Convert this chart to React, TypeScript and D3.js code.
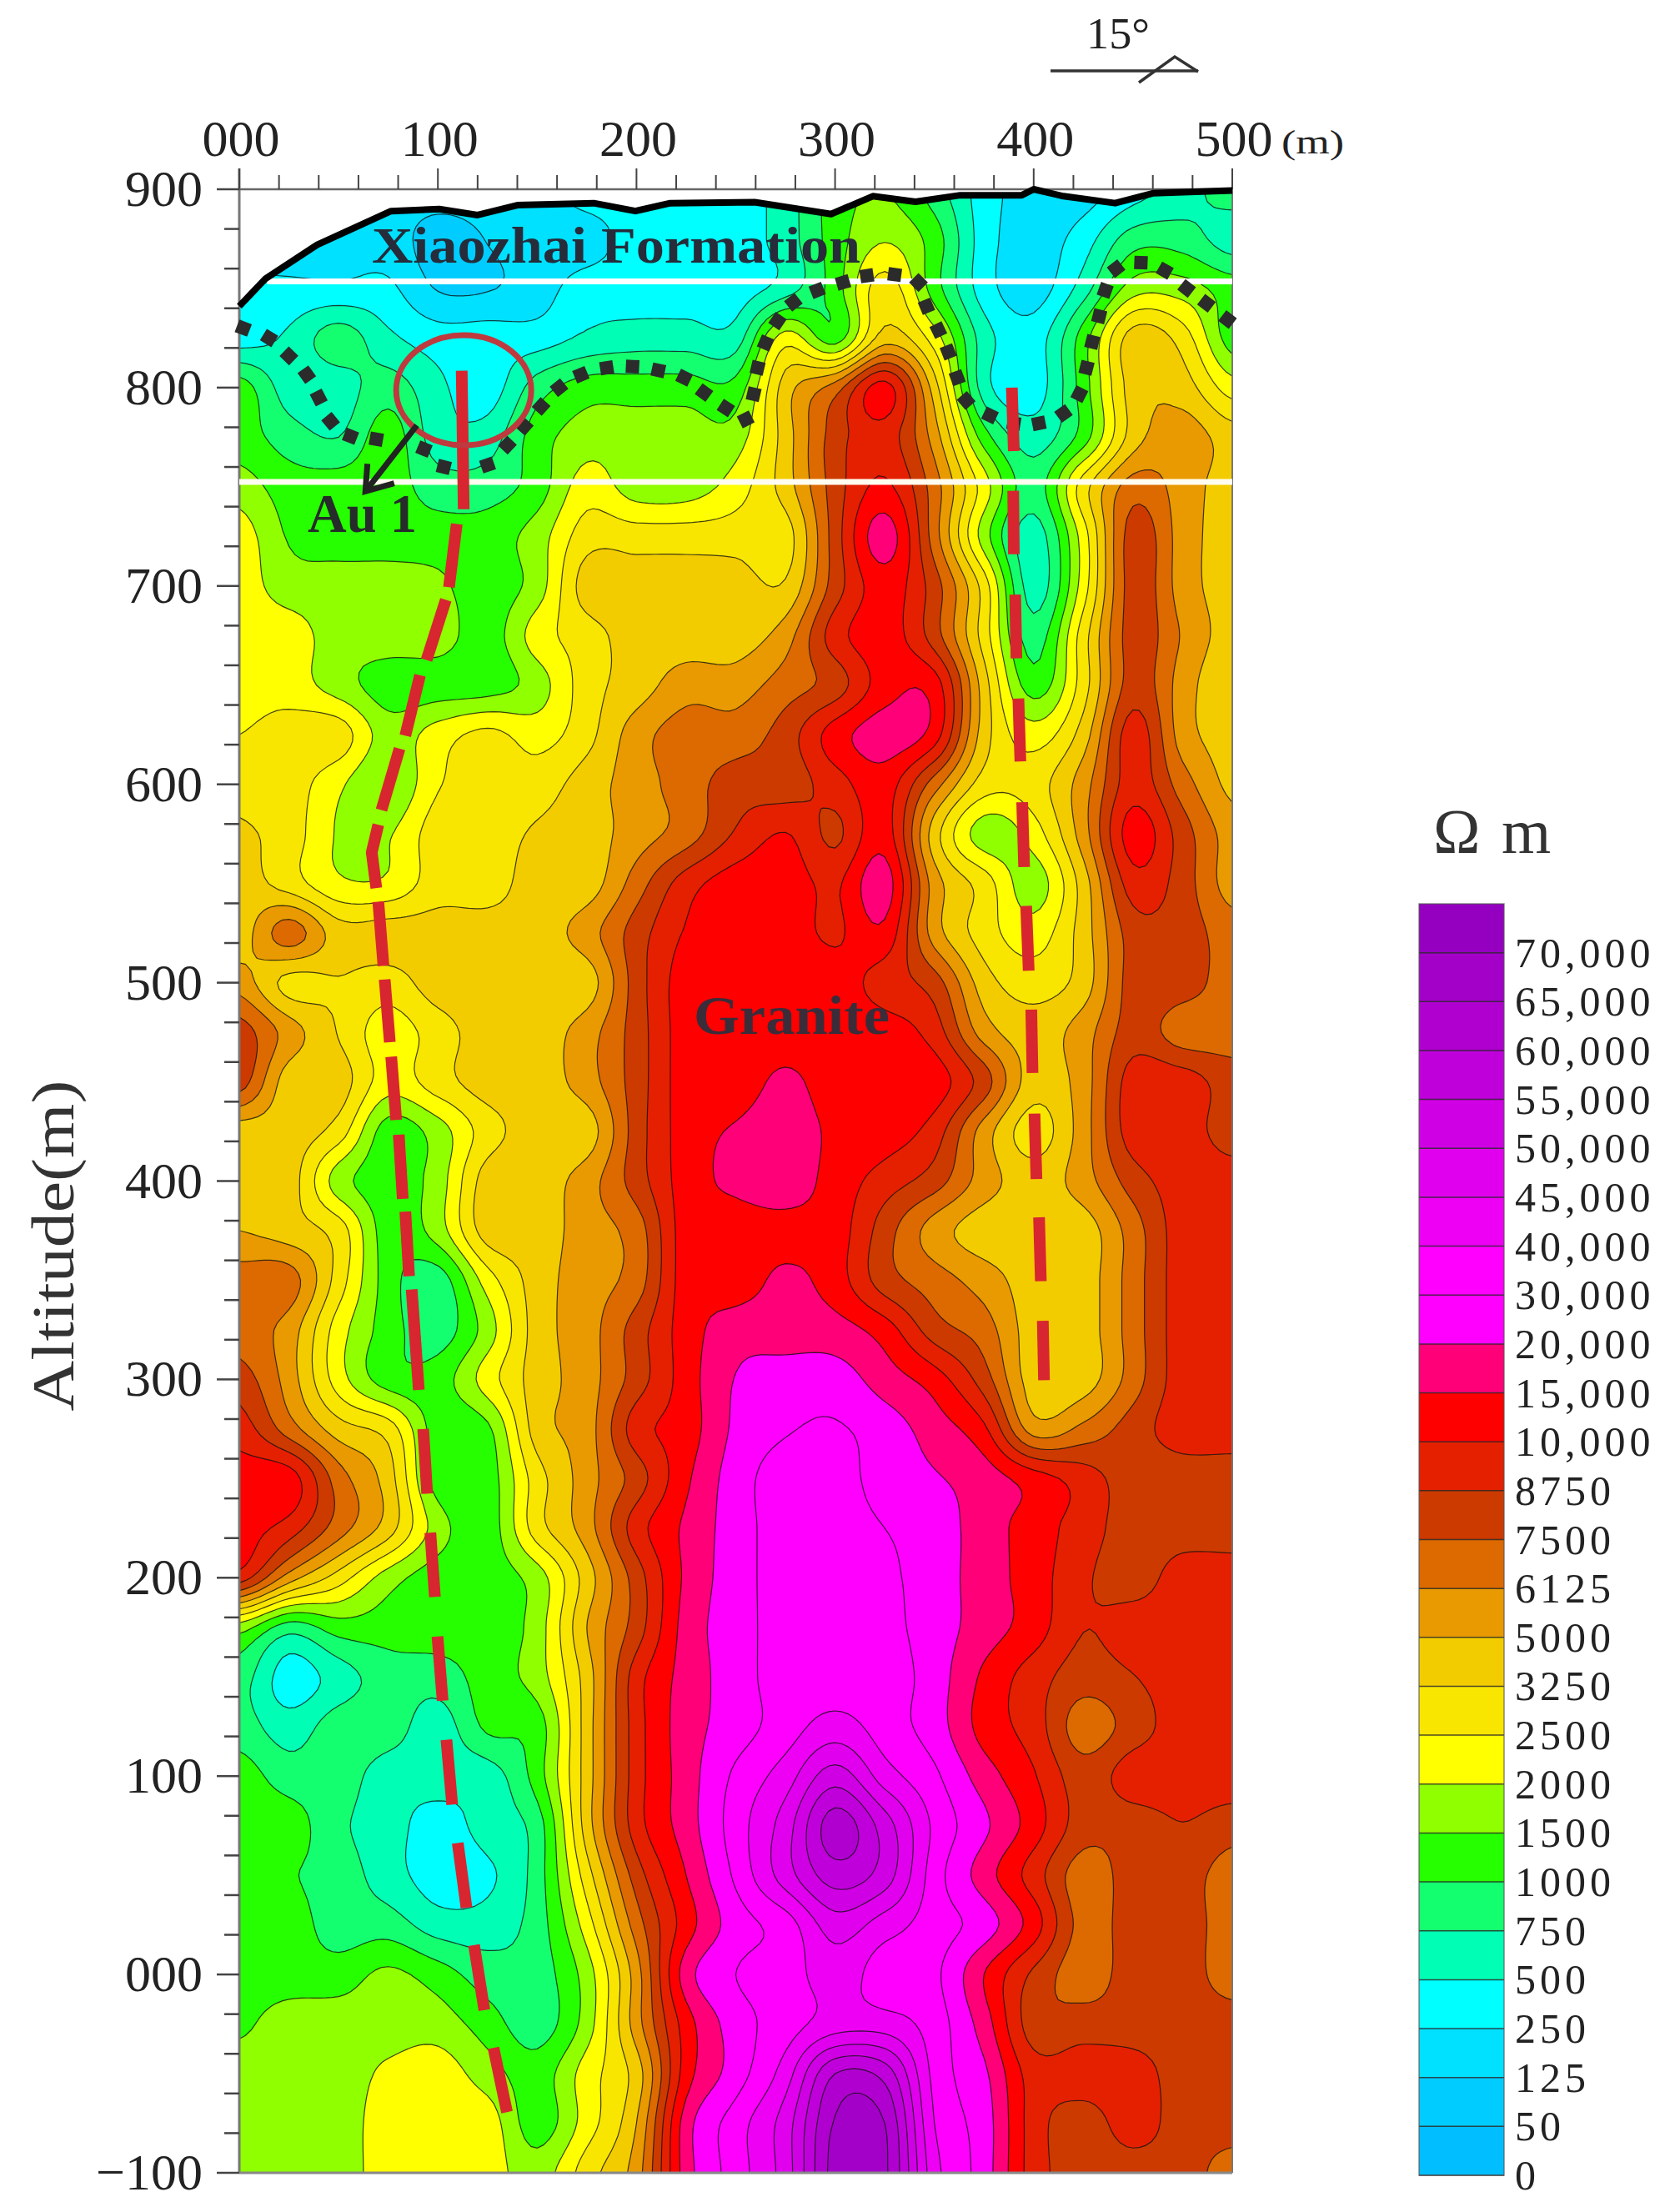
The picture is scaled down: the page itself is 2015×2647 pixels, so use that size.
import React, { useMemo } from "react";
import * as d3 from "d3";

const levels = [0,50,125,250,500,750,1000,1500,2000,2500,3250,5000,6125,7500,8750,10000,15000,20000,30000,40000,45000,50000,55000,60000,65000,70000];
const levelLabels = ["0","50","125","250","500","750","1000","1500","2000","2500","3250","5000","6125","7500","8750","10,000","15,000","20,000","30,000","40,000","45,000","50,000","55,000","60,000","65,000","70,000"];
const bandColors = ["#00BEFF","#00CCFF","#00E0FF","#00FFFF","#00FFB4","#14FF70","#26FF00","#90FF00","#FFFF00","#F9E600","#F3CC00","#E89A00","#DC6A00","#CC3A00","#E42000","#FF0000","#FF0078","#FF00FF","#FF00FF","#EE00F5","#E000EE","#D000E4","#C000DB","#B000D0","#A300C8","#9500C0"];

const xTickLabels = ["000","100","200","300","400","500"];
const yTickValues = [900,800,700,600,500,400,300,200,100,0,-100];
const yTickLabels = ["900","800","700","600","500","400","300","200","100","000","\u2212100"];

// Apparent resistivity (ohm m) read at every 25 m along the section (columns) and every 25 m of altitude (rows)
const gridX = d3.range(0, 501, 25);
const gridAlt = d3.range(900, -101, -25);
const resistivity = [
[190,190,190,190,190,190,190,375,375,375,375,625,1250,1500,875,375,190,190,375,625,875],
[190,190,190,190,90,130,190,190,375,375,375,625,1250,1950,1250,375,190,375,875,875,625],
[300,300,300,300,120,120,190,375,375,375,375,625,1250,2900,1250,375,190,625,1750,1750,1250],
[375,550,875,560,375,375,375,550,625,625,625,2250,1250,4100,2250,625,375,1250,4100,2900,1250],
[1250,625,625,875,560,375,875,1250,1250,1250,1200,4100,6800,12000,4100,625,375,1250,4100,4100,2250],
[1250,875,750,1250,625,625,1250,1750,1750,1750,1750,4100,8100,9400,5600,1250,625,1250,4100,5600,4100],
[1750,1250,1250,1250,875,875,1250,2250,1750,1750,2250,4100,8100,11000,6800,2250,875,2900,6800,5600,4100],
[2250,1450,1250,1250,1250,1250,1750,2900,2900,2900,2900,2900,8100,17500,6800,1750,625,2250,8100,5600,4100],
[2250,1750,1750,1750,1600,1250,1750,4100,4100,4100,4100,3500,8100,12500,8100,2900,625,2250,8100,5600,4100],
[2250,2250,1750,1750,1750,1250,2250,2900,4100,4100,4100,5600,9400,12500,8100,2900,875,2900,8100,6000,4100],
[2250,2250,1750,1250,1250,1250,1750,2900,4100,5600,5600,6800,8100,12500,12500,4100,1250,2900,8100,5600,3300],
[2500,2900,2900,1750,2250,2700,2300,3000,5600,6800,6800,8100,12500,17500,12500,4100,2250,4100,9400,5600,4100],
[3000,2900,2100,1500,2450,2900,2900,4100,5600,6800,8100,8100,9400,12500,6800,2900,2900,5600,9400,6800,4500],
[3500,2900,1950,1950,2900,2900,3500,4100,5600,6800,8900,10200,8500,12500,4100,1750,2250,5600,12500,8100,5600],
[4100,2900,2100,2100,2900,2900,4100,4100,6800,9400,12500,12500,9800,17500,5600,2900,1750,4100,9400,8100,5600],
[4100,6800,4100,4100,4100,4100,4100,5600,8100,10500,12500,12500,9800,13500,5600,2900,2250,4100,8100,8100,6800],
[5600,3000,3200,2900,4100,4100,4100,4100,8100,12500,12500,12500,12500,9400,8100,4100,2900,4100,8100,8100,6800],
[8100,5600,3200,2250,2900,4100,4100,5600,8100,12500,12500,12500,12500,12500,9400,5600,4100,5600,8100,6800,6800],
[8100,4100,4100,2250,2900,4100,4100,5600,8100,12500,12500,16000,12500,12500,12500,8100,4100,5600,9400,9400,8100],
[4100,4100,2900,1250,1750,2900,4100,4100,8100,12500,15500,17500,14000,12500,9400,5600,2900,5600,9400,9400,8100],
[4100,4100,1750,1250,1750,4100,4100,5600,8100,12500,16000,17500,13000,9400,8100,5600,4100,5600,8100,9400,9400],
[5000,4100,2900,1250,1750,4100,4100,5600,6800,12500,12500,13500,12500,8100,5600,4100,4100,4100,6800,9400,9400],
[6800,6800,2900,1250,875,2250,4100,5600,6800,12500,12500,16000,12500,8100,6800,5600,4100,4100,6800,9400,9400],
[6800,5600,2250,1250,875,1750,4100,5600,8100,12500,17500,17500,17000,12500,8100,6800,4100,4100,6800,9400,9400],
[8100,5600,2250,1250,1250,2250,4100,5600,8100,12500,20500,25000,25000,17500,12500,8100,4100,4100,6800,9400,9400],
[9400,6800,4100,2900,1250,1400,4100,5600,9400,12500,22000,29000,31000,25000,17500,11000,5600,6500,8100,9400,9400],
[12500,12500,6800,4100,1250,1250,2900,5600,8100,14000,25000,35000,35000,25000,21000,17500,12500,9400,8100,8100,8100],
[12500,9400,6800,4100,1750,1250,2900,5600,9400,16000,25000,35000,35000,30000,25000,17500,12500,9400,8100,8100,8100],
[9400,5600,2900,1750,1250,1250,1750,4100,8100,16000,25000,35000,35000,32000,25000,17500,12500,9000,8100,9400,9400],
[1750,875,1250,1250,1250,1200,1750,5000,8100,17000,25000,35000,35000,33000,25000,17500,12500,8800,9400,9400,9400],
[875,375,625,875,875,1250,1750,4100,9400,17000,25000,35000,35000,35000,25000,14000,9400,8100,8700,9400,9400],
[875,625,875,875,625,1100,1250,4100,9400,17500,25000,35000,42000,35000,25000,13000,9400,6800,8100,9400,9400],
[1250,875,875,625,625,625,1250,4100,9400,17500,32000,42500,52500,42500,32000,17500,10500,8100,9400,9400,9400],
[1250,1250,800,625,375,625,875,4100,9400,17500,35000,47500,62500,52500,38000,22000,12500,8100,8100,8700,8100],
[1250,1050,875,625,375,450,875,2900,8100,15000,32000,47500,57500,52500,35000,17500,9400,6800,8100,8100,6800],
[1250,1250,875,875,625,625,875,2250,6800,12500,25000,35000,47500,42500,35000,25000,12500,7000,8100,8100,6800],
[1250,1250,1250,1600,1250,875,875,1750,5600,17500,30000,35000,42500,35000,32000,15000,8500,6800,8100,8100,6800],
[1400,1750,1750,1750,1750,1250,875,1750,5600,12500,25000,35000,42500,42500,35000,17500,8100,8100,8100,8100,8100],
[1750,1750,1750,2100,2250,1750,1250,2250,4100,12500,25000,42500,60000,58000,37000,22000,9400,9400,9400,8100,8100],
[1750,1750,1750,2250,2250,2250,1250,2250,5000,17500,35000,47500,65500,65000,40000,25000,9400,8100,9400,8100,8100],
[1750,1750,1750,2250,2250,2250,1750,2900,5600,17500,35000,47500,67000,66000,42000,25000,9400,8100,8100,8100,6800],
];

const surfaceX = [0,13.3,39.2,76.4,100.7,120,140,178.5,199.5,217,259.5,298,319,340.5,363,394,400,415,441,460,500];
const surfaceAlt = [841,855,872,889,890,887,892,893,889,893,893.5,887.5,896.5,893.7,897,897,900,896.5,893,898,899.4];

const contactX = [2,15,25,34,40,46,56,69,93,103,125,135,143.5,152,161,172,185,198,211,224,234,245,255,259,261,265,271,279,291,304,316,330,342,346,352,357,361.5,366,378,390,402.6,415,423,426.6,429.5,433,436,441.5,454,466,477,487,497.6];
const contactAlt = [830,825,816,806.5,795,783,775.5,774,769,760,761,771,780.5,790.5,800,806.5,810,810.6,808.7,805,797.5,789.7,784,796.7,810,822.5,833.5,843,849,853,856.4,857,853,841,829,818,805,793.5,786,782,782,787,796.7,810,823,836,849,860,863,859,850,842.5,834.3];

const faultOne: number[][][] = [
[[112,808.5],[113,738.7]],[[109.5,731.3],[105.6,699.4]],[[104,693],[94.3,662.7]],[[91,655],[83.6,624.5]],
[[80.7,618],[71.6,587]],[[70,579.6],[66.7,565.7],[69,547.7]],[[70,540.8],[72.6,508.5]],[[73.2,501.6],[75.8,470]],
[[76.5,462.7],[79,430.8]],[[80.3,423.4],[82.3,391]],[[83.6,384.6],[85.5,352]],[[86.8,345.4],[90.4,294.7]],
[[92.6,275],[94.6,242.4]],[[96.2,222.7],[98.5,190.4]],[[99.8,170.4],[102.4,138]],[[104.3,118.3],[107.2,85.6]],
[[110,66.3],[114.4,33.6]],[[118.2,14.8],[123.4,-18]],[[128,-37],[134.8,-69.4]],
];
const faultTwo: number[][][] = [
[[389,800],[390,768]],[[389.7,748],[390,716]],[[390.7,695.7],[391.3,663.5]],[[392.3,643.3],[393.3,611.5]],
[[394.2,591],[395.2,558.3]],[[396.2,538.7],[397.5,506]],[[398.8,486.4],[399.4,454.5]],[[400.4,434],[401.4,401]],
[[402.7,381.7],[403.6,349.5]],[[404.6,329.5],[405.2,299.6]],
];

const SERIF = "'Liberation Serif','Times New Roman',serif";
const LEFT = 287, RIGHT = 1478, TOP = 227, BOTTOM = 2606;

const catmull = (a: number, b: number, c: number, d: number, t: number) =>
  0.5 * (2 * b + (c - a) * t + (2 * a - 5 * b + 4 * c - d) * t * t + (3 * b - a - 3 * c + d) * t * t * t);

function upsample(grid: number[][], k: number) {
  const rows = grid.length, cols = grid[0].length;
  const nx = (cols - 1) * k + 1, ny = (rows - 1) * k + 1;
  const byX: number[][] = grid.map((r) => {
    const out: number[] = [];
    for (let i = 0; i < nx; i++) {
      const f = i / k, j = Math.min(Math.floor(f), cols - 2), t = f - j;
      out.push(catmull(r[Math.max(j - 1, 0)], r[j], r[j + 1], r[Math.min(j + 2, cols - 1)], t));
    }
    return out;
  });
  const values = new Array(nx * ny);
  for (let y = 0; y < ny; y++) {
    const f = y / k, j = Math.min(Math.floor(f), rows - 2), t = f - j;
    for (let x = 0; x < nx; x++) {
      values[y * nx + x] = catmull(byX[Math.max(j - 1, 0)][x], byX[j][x], byX[j + 1][x], byX[Math.min(j + 2, rows - 1)][x], t);
    }
  }
  return { values, nx, ny };
}

export default function App() {
  const xScale = d3.scaleLinear().domain([0, 500]).range([LEFT, RIGHT]);
  const yScale = d3.scaleLinear().domain([900, -100]).range([TOP, BOTTOM]);
  const colorY = d3.scaleLinear().domain([0, 26]).range([2609, 1084]);

  const { paths } = useMemo(() => {
    const toIndex = d3.scaleLinear<number>().domain([...levels, 80000]).range(d3.range(levels.length + 1)).clamp(true);
    const indexGrid = resistivity.map((r) => r.map((v) => toIndex(v)));
    const k = 8;
    const { values, nx, ny } = upsample(indexGrid, k);
    const gen = d3.contours().size([nx, ny]).thresholds(d3.range(1, levels.length));
    const sets = gen(values);
    const last = gridX[gridX.length - 1];
    const lastRow = gridAlt.length - 1;
    const proj = d3.geoTransform({
      point(this: any, px: number, py: number) {
        const mx = ((px - 0.5) / (nx - 1)) * last;
        const alt = gridAlt[0] + ((py - 0.5) / (ny - 1)) * (gridAlt[lastRow] - gridAlt[0]);
        this.stream.point(xScale(mx), yScale(alt));
      },
    });
    const geo = d3.geoPath(proj);
    return { paths: sets.map((s) => ({ v: s.value, d: geo(s as any) || "" })) };
  }, []);

  const surfaceLine = d3.line<number>().x((_, i) => xScale(surfaceX[i])).y((v) => yScale(v));
  const surfacePts = surfaceLine(surfaceAlt) || "";
  const clipD =
    surfacePts + `L${xScale(500)},${yScale(-100)}L${xScale(0)},${yScale(-100)}Z`;
  const segLine = d3.line<number[]>().x((d) => xScale(d[0])).y((d) => yScale(d[1]));

  const xMajor = d3.range(0, 501, 100);
  const xMinor = d3.range(0, 501, 20);
  const yMinor = d3.range(-100, 901, 20);

  return (
    <svg width={2015} height={2647} viewBox="0 0 2015 2647" style={{ position: "absolute", left: 0, top: 0, display: "block", background: "#fff" }}>
      <defs>
        <clipPath id="section"><path d={clipD} /></clipPath>
      </defs>

      <g clipPath="url(#section)">
        <rect x={LEFT} y={TOP} width={RIGHT - LEFT} height={BOTTOM - TOP} fill={bandColors[0]} />
        {paths.map((p) => (
          <path key={p.v} d={p.d} fill={bandColors[p.v]} stroke="#111" strokeOpacity={0.8} strokeWidth={1.2} />
        ))}
      </g>

      {/* frame and ticks */}
      <line x1={LEFT} x2={LEFT} y1={TOP - 25} y2={BOTTOM} stroke="#777" strokeWidth={3} />
      <line x1={RIGHT} x2={RIGHT} y1={TOP - 25} y2={BOTTOM} stroke="#777" strokeWidth={2} />
      <line x1={LEFT} x2={RIGHT} y1={TOP} y2={TOP} stroke="#666" strokeWidth={2.5} />
      <line x1={LEFT} x2={RIGHT} y1={BOTTOM} y2={BOTTOM} stroke="#888" strokeWidth={3} />
      {xMinor.map((v) => (
        <line key={v} x1={xScale(v)} x2={xScale(v)} y1={xMajor.includes(v) ? TOP - 25 : TOP - 17} y2={TOP} stroke="#444" strokeWidth={2} />
      ))}
      {yMinor.map((v) => (
        <line key={v} x1={yTickValues.includes(v) ? LEFT - 27 : LEFT - 18} x2={LEFT} y1={yScale(v)} y2={yScale(v)} stroke="#444" strokeWidth={2.5} />
      ))}
      {xMajor.map((v, i) => (
        <text key={v} x={xScale(v) + 2} y={187} textAnchor="middle" fontFamily={SERIF} fontSize={62} fill="#222">{xTickLabels[i]}</text>
      ))}
      <text x={1537} y={184} fontFamily={SERIF} fontSize={40} textLength={75} lengthAdjust="spacingAndGlyphs" fill="#222">(m)</text>
      {yTickValues.map((v, i) => (
        <text key={v} x={243} y={yScale(v) + 20} textAnchor="end" fontFamily={SERIF} fontSize={62} fill="#222">{yTickLabels[i]}</text>
      ))}
      <text transform={`translate(88,1494) rotate(-90)`} textAnchor="middle" fontFamily={SERIF} fontSize={72} textLength={397} lengthAdjust="spacingAndGlyphs" fill="#333">Altitude(m)</text>

      {/* horizontal white lines */}
      <line x1={xScale(14)} x2={RIGHT} y1={yScale(853.5)} y2={yScale(853.5)} stroke="#fff" strokeWidth={7} />
      <line x1={LEFT} x2={RIGHT} y1={yScale(752.5)} y2={yScale(752.5)} stroke="#fffdf0" strokeWidth={7} />

      {/* surface */}
      <path d={surfacePts} fill="none" stroke="#000" strokeWidth={8} strokeLinejoin="round" />

      {/* dotted contact */}
      {contactX.map((mx, i) => {
        const a = Math.max(i - 1, 0), b = Math.min(i + 1, contactX.length - 1);
        const ang = (Math.atan2(yScale(contactAlt[b]) - yScale(contactAlt[a]), xScale(contactX[b]) - xScale(contactX[a])) * 180) / Math.PI;
        return (
          <rect key={i} x={-8} y={-8} width={16} height={16} fill="#2b2b2b"
            transform={`translate(${xScale(mx)},${yScale(contactAlt[i])}) rotate(${ang})`} />
        );
      })}

      {/* faults */}
      {[...faultOne, ...faultTwo].map((s, i) => (
        <path key={i} d={segLine(s) || ""} fill="none" stroke="#D7262F" strokeWidth={14} strokeLinejoin="round" />
      ))}

      {/* Au 1 marker */}
      <ellipse cx={xScale(113)} cy={yScale(798.7)} rx={81} ry={66} fill="none" stroke="#BE3A3E" strokeWidth={7} />
      <path d={segLine([[89.4, 781], [63.5, 747.7]]) || ""} fill="none" stroke="#222" strokeWidth={7} />
      <path d={segLine([[64.5, 761.6], [63.5, 747.7], [78, 751.8]]) || ""} fill="none" stroke="#222" strokeWidth={7} />

      <text x={446} y={315} fontFamily={SERIF} fontWeight="bold" fontSize={62} textLength={586} lengthAdjust="spacingAndGlyphs" fill="#262c3a">Xiaozhai Formation</text>
      <text x={369} y={638} fontFamily={SERIF} fontWeight="bold" fontSize={66} textLength={131} lengthAdjust="spacingAndGlyphs" fill="#262c2a">Au 1</text>
      <text x={832} y={1240} fontFamily={SERIF} fontWeight="bold" fontSize={65} textLength={235} lengthAdjust="spacingAndGlyphs" fill="#3b2c3a">Granite</text>

      {/* strike symbol */}
      <text x={1303} y={58} fontFamily={SERIF} fontSize={52} textLength={76} lengthAdjust="spacingAndGlyphs" fill="#222">15°</text>
      <line x1={1260} x2={1437} y1={85} y2={85} stroke="#333" strokeWidth={3.5} />
      <path d="M1366,99L1409,68L1437,86" fill="none" stroke="#333" strokeWidth={3.5} />

      {/* legend */}
      <text x={1719} y={1023} fontFamily={SERIF} fontSize={76} textLength={141} lengthAdjust="spacing" fill="#333">Ω m</text>
      {bandColors.map((c, i) => (
        <rect key={i} x={1702} y={colorY(i + 1)} width={102} height={colorY(i) - colorY(i + 1)} fill={c} />
      ))}
      {levels.map((_, i) => (
        <line key={i} x1={1702} x2={1804} y1={colorY(i)} y2={colorY(i)} stroke="#222" strokeOpacity={0.8} strokeWidth={1.5} />
      ))}
      <rect x={1702} y={colorY(26)} width={102} height={colorY(0) - colorY(26)} fill="none" stroke="#555" strokeOpacity={0.7} strokeWidth={1.5} />
      {levelLabels.map((t, i) => (
        <text key={i} x={1817} y={colorY(i) + 17} fontFamily={SERIF} fontSize={50} letterSpacing={5} fill="#222">{t}</text>
      ))}
    </svg>
  );
}
